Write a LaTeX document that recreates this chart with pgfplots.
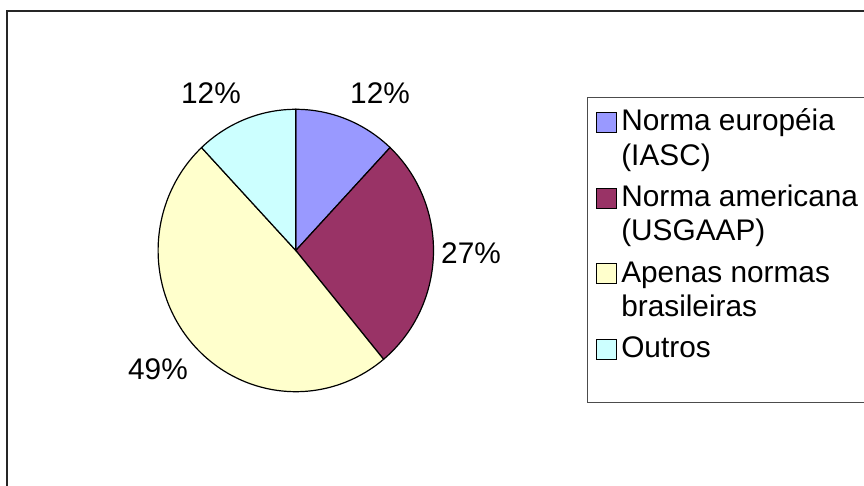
\documentclass[border=0pt]{standalone}
\usepackage{fontspec}
\setmainfont{Liberation Sans}
\usepackage{pgfplots}
\pgfplotsset{compat=1.18}
\definecolor{cA}{HTML}{9999FF}
\definecolor{cB}{HTML}{993366}
\definecolor{cC}{HTML}{FFFFCC}
\definecolor{cD}{HTML}{CCFFFF}
\newcommand\legtext[1]{\begin{tabular}[t]{@{}l@{}}#1\end{tabular}}
\begin{document}
\begin{tikzpicture}[font=\fontsize{29.8bp}{34.3bp}\selectfont]
\useasboundingbox (0,0) rectangle (864bp,486bp);
% data (percent)
\def\vA{12}\def\vB{27}\def\vC{49}\def\vD{12}
\pgfmathsetmacro\aA{90}
\pgfmathsetmacro\aB{\aA-3.6*\vA}
\pgfmathsetmacro\aC{\aB-3.6*\vB}
\pgfmathsetmacro\aD{\aC-3.6*\vC}
\pgfmathsetmacro\aE{\aD-3.6*\vD}
\def\cx{295.8}\def\cy{235.5}\def\rx{137.7}\def\ry{141.2}
\begin{axis}[at={(0,0)}, anchor=south west, scale only axis, width=864bp, height=486bp,
 xmin=0, xmax=864, ymin=0, ymax=486, hide axis, clip=false,
 legend style={at={(axis description cs:0.68981,0.78045)}, anchor=north west, draw=none, fill=none,
   inner sep=0pt, outer sep=0pt, row sep=7.1bp, column sep=5bp,
   cells={anchor=base west},
   nodes={inner sep=0pt, outer sep=0pt, text depth=, text height=},
   font=\fontsize{29.8bp}{34.3bp}\selectfont},
 legend image code/.code={\draw[#1, line width=0.8bp] (0bp,-1.6bp) rectangle (19.5bp,18.4bp);},
]
\addplot[fill=cA, draw=black, line width=1.2bp, domain=\aB:\aA, samples=60]
  ({\cx+\rx*cos(x)},{\cy+\ry*sin(x)}) -- (axis cs:\cx,\cy) -- cycle;
\addlegendentry{\legtext{Norma européia\\(IASC)}}
\addplot[fill=cB, draw=black, line width=1.2bp, domain=\aC:\aB, samples=80]
  ({\cx+\rx*cos(x)},{\cy+\ry*sin(x)}) -- (axis cs:\cx,\cy) -- cycle;
\addlegendentry{\legtext{Norma americana\\(USGAAP)}}
\addplot[fill=cC, draw=black, line width=1.2bp, domain=\aD:\aC, samples=120]
  ({\cx+\rx*cos(x)},{\cy+\ry*sin(x)}) -- (axis cs:\cx,\cy) -- cycle;
\addlegendentry{\legtext{Apenas normas\\brasileiras}}
\addplot[fill=cD, draw=black, line width=1.2bp, domain=\aE:\aD, samples=60]
  ({\cx+\rx*cos(x)},{\cy+\ry*sin(x)}) -- (axis cs:\cx,\cy) -- cycle;
\addlegendentry{\legtext{Outros}}
\node[anchor=base] at (axis cs:211,382.7) {12\%};
\node[anchor=base] at (axis cs:380,382.7) {12\%};
\node[anchor=base] at (axis cs:471,222.7) {27\%};
\node[anchor=base] at (axis cs:158,106) {49\%};
\draw[line width=1.8bp, black!85] (axis cs:7,-5) -- (axis cs:7,475) -- (axis cs:870,475);
\draw[line width=1bp, black!70] (axis cs:870,388) -- (axis cs:587,388) -- (axis cs:587,83) -- (axis cs:870,83);
\end{axis}
\end{tikzpicture}
\end{document}
